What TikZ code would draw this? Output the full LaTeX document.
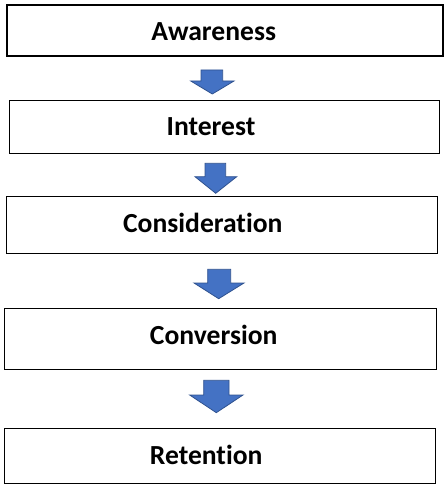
\documentclass[tikz,border=0pt]{standalone}
\usepackage{fontspec}
\setmainfont{Carlito}[Ligatures={NoCommon}]
\definecolor{arrowblue}{HTML}{4472C4}
\definecolor{arrowedge}{HTML}{2F528F}
\begin{document}
\begin{tikzpicture}[x=1pt, y=-1pt]
    \tikzstyle{stage}=[draw=black, line width=1.2pt, inner sep=0pt]
    \tikzstyle{stagetext}=[font=\fontsize{27.6}{30}\selectfont\bfseries, text=black, inner sep=0pt, anchor=base]
    \tikzstyle{blockarrow}=[fill=arrowblue, draw=arrowedge, line width=0.8pt, line join=miter]

    \useasboundingbox (0,0) rectangle (446,502);

    % stage boxes
    \node[stage, minimum width=436pt, minimum height=51pt] (aware) at (225,30.5) {};
    \node[stage, minimum width=430pt, minimum height=53pt] (interest) at (224.3,126.7) {};
    \node[stage, minimum width=431pt, minimum height=57pt] (consider) at (222,224.8) {};
    \node[stage, minimum width=432pt, minimum height=61pt] (convert) at (220.5,338.8) {};
    \node[stage, minimum width=431pt, minimum height=55pt] (retain) at (220,455.8) {};

    % stage labels
    \node[stagetext] (awaretext) at (213.7,40.7) {Awareness};
    \node[stagetext] (interesttext) at (211,135.7) {Interest};
    \node[stagetext] (considertext) at (202.8,232.3) {Consideration};
    \node[stagetext] (converttext) at (213.7,344) {Conversion};
    \node[stagetext] (retaintext) at (206.2,464.3) {Retention};

    % block arrows
    \draw[blockarrow] (201,70) -- (222.7,70) -- (222.7,81) -- (234,81) -- (212.3,94) -- (190.7,81) -- (201,81) -- cycle;
    \draw[blockarrow] (205,163.3) -- (225.7,163.3) -- (225.7,176.7) -- (236.7,176.7) -- (215.7,193.3) -- (195,176.7) -- (205,176.7) -- cycle;
    \draw[blockarrow] (207.7,269.3) -- (230.7,269.3) -- (230.7,283) -- (244,283) -- (218.7,298.7) -- (194,283) -- (207.7,283) -- cycle;
    \draw[blockarrow] (203.7,380.3) -- (229,380.3) -- (229,395) -- (243,395) -- (216.3,412.7) -- (189.7,395) -- (203.7,395) -- cycle;
\end{tikzpicture}
\end{document}
